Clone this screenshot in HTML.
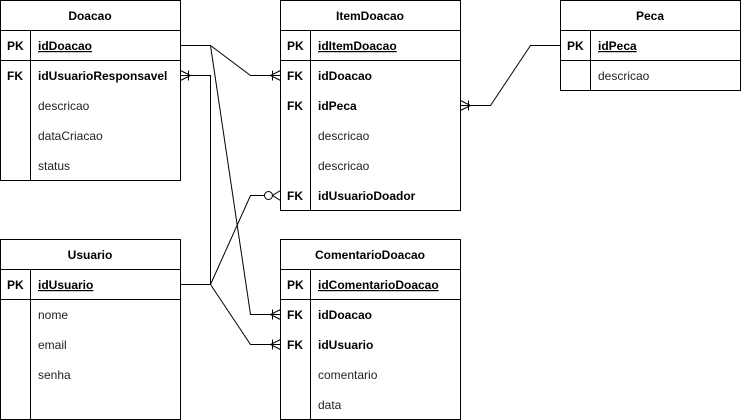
<!DOCTYPE html>
<html><head><meta charset="utf-8"><style>
html,body{margin:0;padding:0;background:#fff;}
svg{display:block;}
text{font-family:"Liberation Sans",Arial,sans-serif;font-size:12px;fill:#000;}
.b{font-weight:bold;}
.n{fill:#222;}
</style></head><body>
<svg width="741" height="420" viewBox="0 0 741 420" xmlns="http://www.w3.org/2000/svg">
<g fill="none" stroke="#000" stroke-width="1">
<!-- Doacao -->
<rect x="0.5" y="0.5" width="180" height="180"/>
<line x1="0.5" y1="30.5" x2="180.5" y2="30.5"/>
<line x1="0.5" y1="60.5" x2="180.5" y2="60.5"/>
<line x1="30.5" y1="30.5" x2="30.5" y2="180.5"/>
<!-- ItemDoacao -->
<rect x="280.5" y="0.5" width="180" height="210"/>
<line x1="280.5" y1="30.5" x2="460.5" y2="30.5"/>
<line x1="280.5" y1="60.5" x2="460.5" y2="60.5"/>
<line x1="310.5" y1="30.5" x2="310.5" y2="210.5"/>
<!-- Peca -->
<rect x="560.5" y="0.5" width="180" height="90"/>
<line x1="560.5" y1="30.5" x2="740.5" y2="30.5"/>
<line x1="560.5" y1="60.5" x2="740.5" y2="60.5"/>
<line x1="590.5" y1="30.5" x2="590.5" y2="90.5"/>
<!-- Usuario -->
<rect x="0.5" y="239.5" width="180" height="180"/>
<line x1="0.5" y1="269.5" x2="180.5" y2="269.5"/>
<line x1="0.5" y1="299.5" x2="180.5" y2="299.5"/>
<line x1="30.5" y1="269.5" x2="30.5" y2="419.5"/>
<!-- ComentarioDoacao -->
<rect x="280.5" y="239.5" width="180" height="180"/>
<line x1="280.5" y1="269.5" x2="460.5" y2="269.5"/>
<line x1="280.5" y1="299.5" x2="460.5" y2="299.5"/>
<line x1="310.5" y1="269.5" x2="310.5" y2="419.5"/>

<!-- connectors -->
<polyline points="180.5,45.5 210.5,45.5 250.5,75.5 280.5,75.5"/>
<polyline points="210.5,45.5 250.5,314.5 280.5,314.5"/>
<polyline points="180.5,284.5 210.5,284.5 210.5,75.5 180.5,75.5"/>
<polyline points="210.5,284.5 250.5,195.5 264.5,195.5"/>
<polyline points="210.5,284.5 250.5,344.5 280.5,344.5"/>
<polyline points="560.5,45.5 530.5,45.5 490.5,105.5 460.5,105.5"/>
<!-- crow's feet -->
<path d="M272.5,70.5V80.5 M280.5,70.5L270.5,75.5L280.5,80.5"/>
<path d="M272.5,309.5V319.5 M280.5,309.5L270.5,314.5L280.5,319.5"/>
<path d="M272.5,339.5V349.5 M280.5,339.5L270.5,344.5L280.5,349.5"/>
<path d="M188.5,70.5V80.5 M180.5,70.5L190.5,75.5L180.5,80.5"/>
<path d="M468.5,100.5V110.5 M460.5,100.5L470.5,105.5L460.5,110.5"/>
<circle cx="268.5" cy="195.5" r="4" fill="#fff"/>
<path d="M280.5,190.5L272.5,195.5L280.5,200.5"/>
</g>
<g>
<text x="90" y="20" text-anchor="middle" class="b">Doacao</text>
<text x="7" y="50" class="b">PK</text><text x="38" y="50" class="b" text-decoration="underline">idDoacao</text>
<text x="7" y="80" class="b">FK</text><text x="38" y="80" class="b">idUsuarioResponsavel</text>
<text x="38" y="110" class="n">descricao</text>
<text x="38" y="140" class="n">dataCriacao</text>
<text x="38" y="170" class="n">status</text>

<text x="370" y="20" text-anchor="middle" class="b">ItemDoacao</text>
<text x="287" y="50" class="b">PK</text><text x="318" y="50" class="b" text-decoration="underline">idItemDoacao</text>
<text x="287" y="80" class="b">FK</text><text x="318" y="80" class="b">idDoacao</text>
<text x="287" y="110" class="b">FK</text><text x="318" y="110" class="b">idPeca</text>
<text x="318" y="140" class="n">descricao</text>
<text x="318" y="170" class="n">descricao</text>
<text x="287" y="200" class="b">FK</text><text x="318" y="200" class="b">idUsuarioDoador</text>

<text x="650" y="20" text-anchor="middle" class="b">Peca</text>
<text x="567" y="50" class="b">PK</text><text x="598" y="50" class="b" text-decoration="underline">idPeca</text>
<text x="598" y="80" class="n">descricao</text>

<text x="90" y="259" text-anchor="middle" class="b">Usuario</text>
<text x="7" y="289" class="b">PK</text><text x="38" y="289" class="b" text-decoration="underline">idUsuario</text>
<text x="38" y="319" class="n">nome</text>
<text x="38" y="349" class="n">email</text>
<text x="38" y="379" class="n">senha</text>

<text x="370" y="259" text-anchor="middle" class="b">ComentarioDoacao</text>
<text x="287" y="289" class="b">PK</text><text x="318" y="289" class="b" text-decoration="underline">idComentarioDoacao</text>
<text x="287" y="319" class="b">FK</text><text x="318" y="319" class="b">idDoacao</text>
<text x="287" y="349" class="b">FK</text><text x="318" y="349" class="b">idUsuario</text>
<text x="318" y="379" class="n">comentario</text>
<text x="318" y="409" class="n">data</text>
</g>
</svg>
</body></html>
